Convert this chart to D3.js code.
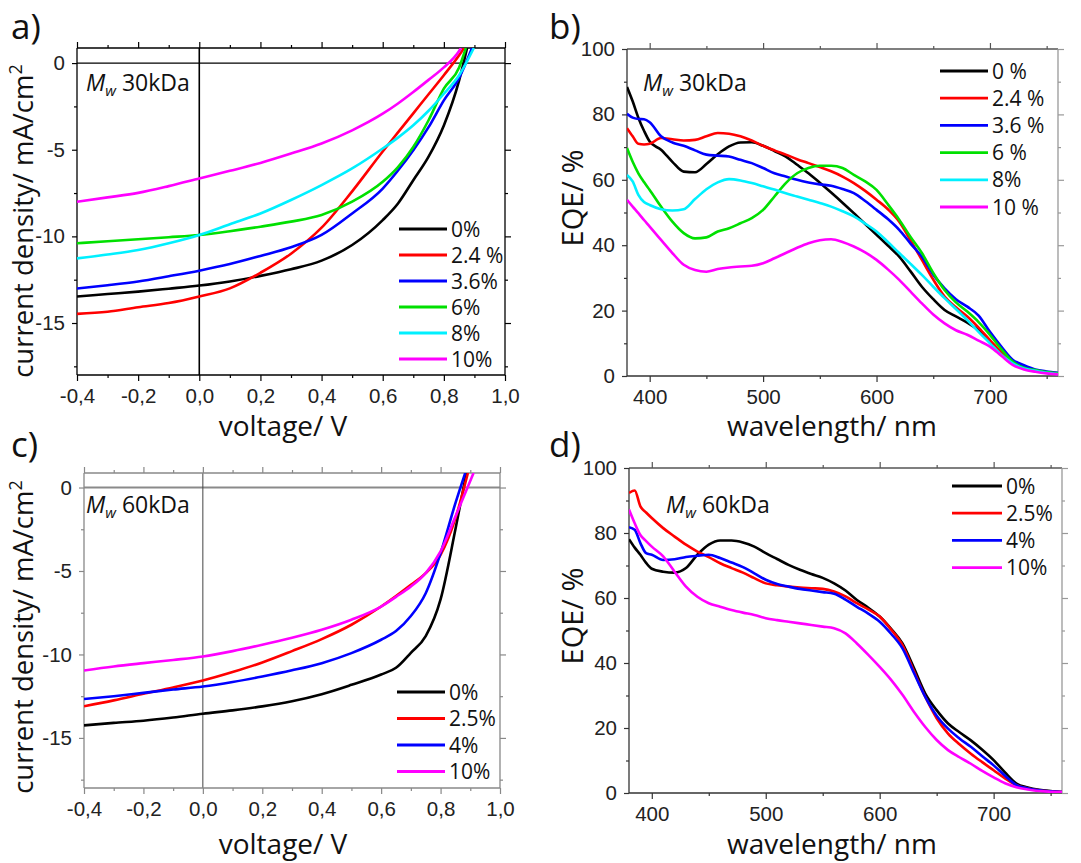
<!DOCTYPE html>
<html>
<head>
<meta charset="utf-8">
<script src="https://cdn.jsdelivr.net/npm/d3@7"></script>
<style>
  body { margin: 0; background: #fff; }
  svg { font-family: "Open Sans", "Noto Sans", sans-serif; }
</style>
</head>
<body>
<svg id="chart" width="1081" height="863"></svg>
<script>
// J-V curves, voltage points (V)
var jvVolt = [-0.4, -0.3, -0.2, -0.1, 0, 0.1, 0.2, 0.3, 0.4, 0.5, 0.6, 0.65, 0.7, 0.75, 0.8, 0.85];

// panel a: Mw 30kDa, current density (mA/cm2)
var jvA0  = [-13.47, -13.33, -13.19, -13.02, -12.84, -12.6, -12.28, -11.9, -11.4, -10.5, -9.06, -8.1, -6.76, -5.4, -3.6, -1.0];
var jvA24 = [-14.47, -14.35, -14.09, -13.85, -13.47, -13.0, -12.1, -11.0, -9.5, -7.4, -5.1, -4.0, -2.9, -1.8, -0.7, 0.45];
var jvA36 = [-13.01, -12.82, -12.6, -12.3, -11.98, -11.6, -11.13, -10.63, -9.92, -8.68, -7.24, -6.2, -5.03, -3.7, -2.15, -0.85];
var jvA6  = [-10.4, -10.28, -10.17, -10.05, -9.92, -9.7, -9.44, -9.15, -8.77, -8.0, -6.85, -6.0, -4.84, -3.3, -1.48, -0.25];
var jvA8  = [-11.27, -11.05, -10.79, -10.4, -9.92, -9.3, -8.68, -7.9, -7.04, -6.08, -4.93, -4.3, -3.59, -2.75, -1.77, -0.7];
var jvA10 = [-8.0, -7.75, -7.49, -7.1, -6.66, -6.22, -5.76, -5.22, -4.64, -3.88, -2.92, -2.33, -1.67, -0.97, -0.25, 0.7];
// voltage where each curve leaves the top of the frame
var jvAEnd = [0.876, 0.866, 0.892, 0.872, 0.898, 0.856];
var jvALabels = ["0%", "2.4 %", "3.6%", "6%", "8%", "10%"];

// panel c: Mw 60kDa
var jvC0  = [-14.25, -14.1, -13.97, -13.78, -13.55, -13.35, -13.11, -12.8, -12.38, -11.82, -11.2, -10.8, -9.9, -8.9, -6.7, -2.5];
var jvC25 = [-13.1, -12.75, -12.36, -11.98, -11.56, -11.05, -10.48, -9.8, -9.08, -8.22, -7.13, -6.5, -5.83, -5.13, -4.03, -1.84];
var jvC4  = [-12.67, -12.5, -12.3, -12.1, -11.92, -11.65, -11.32, -10.95, -10.52, -9.92, -9.12, -8.6, -7.7, -6.33, -3.93, -0.94];
var jvC10 = [-10.96, -10.72, -10.52, -10.33, -10.12, -9.8, -9.42, -9.0, -8.52, -7.92, -7.13, -6.55, -5.93, -5.13, -3.83, -1.74];
var jvCEnd = [0.887, 0.892, 0.883, 0.911];
var jvCLabels = ["0%", "2.5%", "4%", "10%"];

// EQE spectra, wavelength points (nm)
var eqeWave = [380, 385, 390, 395, 400, 410, 420, 430, 440, 450, 460, 470, 480, 490, 500, 510, 520, 530, 540, 550,
               560, 570, 580, 590, 600, 610, 620, 630, 640, 650, 660, 670, 680, 690, 700, 710, 720, 730, 740, 750, 760];

// panel b: Mw 30kDa, EQE (%)
var eqeB0  = [88.4, 84, 79, 75, 71.7, 69.2, 65.5, 62.5, 62.3, 64.8, 67.8, 70.2, 71.4, 71.5, 70.4, 68.8, 67.1, 64.6, 62, 59.1,
              56.1, 53, 49.8, 46.5, 43.2, 39.9, 36.5, 32, 27.3, 23.5, 20.2, 18.2, 16.3, 14, 10.5, 7, 4.2, 2.5, 1.6, 1.1, 0.8];
var eqeB24 = [75.8, 73.3, 71, 70.8, 71, 72.8, 72.4, 72, 72.2, 73.3, 74.3, 74.1, 73.3, 72, 70.4, 69, 67.7, 66.3, 65.1, 63.9,
              62.6, 61, 59, 56.6, 53.9, 51, 47.2, 41.5, 35.5, 29.5, 24.3, 21, 18.2, 14.8, 11, 7.2, 3.9, 2.3, 1.6, 1.1, 0.8];
var eqeB36 = [80.2, 79, 78.6, 78.5, 77.6, 73.3, 71.4, 70.4, 69, 67.7, 67.4, 67.1, 66.1, 65.1, 63.6, 62, 61, 60, 59.2, 58.6,
              58.2, 57.2, 55.9, 53.5, 50.8, 48, 44.7, 40.5, 36.5, 31, 26.8, 23.5, 21.2, 18.5, 13.5, 9, 5, 3.3, 2, 1.4, 1];
var eqeB6  = [69.7, 65.5, 62, 59.3, 56.9, 51.8, 47.2, 43.7, 42.1, 42.4, 44.2, 45.2, 46.7, 48.3, 50.8, 54.9, 59, 62, 63.6, 64.3,
              64.3, 63.6, 61.5, 59.5, 56.9, 52.5, 47.8, 42.5, 37.6, 31.5, 26.3, 22.5, 19.7, 16.5, 12.6, 8.2, 4.4, 2.5, 1.8, 1.2, 0.8];
var eqeB8  = [61.5, 59.5, 55.4, 53.2, 52.3, 51, 50.6, 51, 54.1, 57.1, 59.2, 60.2, 59.8, 59, 58, 57, 55.9, 54.9, 53.9, 52.9,
              51.8, 50.4, 48.8, 46.6, 44.2, 41, 37.6, 34.3, 30.9, 27.3, 23.8, 20.5, 17.1, 13.5, 10, 6.5, 3.9, 2.3, 1.6, 1, 0.6];
var eqeB10 = [53.9, 51.8, 49.8, 47.7, 45.7, 41.6, 37.6, 34, 32.4, 31.9, 32.7, 33.2, 33.5, 33.7, 34.5, 36, 37.6, 39.2, 40.6, 41.5,
              41.8, 41, 39.6, 37.8, 35.5, 32.6, 29.4, 25.8, 22.2, 18.8, 16.1, 14, 12.6, 10.8, 9, 6.2, 3.4, 2, 1.3, 0.8, 0.5];
var eqeBLabels = ["0 %", "2.4 %", "3.6 %", "6 %", "8%", "10 %"];

// panel d: Mw 60kDa
var eqeD0  = [78.1, 75.5, 73.3, 70.8, 69, 68.1, 67.8, 69.2, 73.3, 76.4, 77.7, 77.7, 77.1, 75.8, 73.8, 72, 70.2, 68.7, 67.4, 66.2,
              64.5, 62.3, 59.4, 57, 54.3, 50.5, 46, 38.5, 30.6, 25.5, 21.4, 18.7, 16.2, 13.3, 10.1, 6.3, 2.9, 1.7, 1, 0.6, 0.3];
var eqeD25 = [92.3, 93.1, 88.2, 86.3, 84.6, 81.5, 78.9, 76.4, 74.3, 72.6, 70.7, 69.2, 67.8, 66.1, 64.5, 63.9, 63.5, 63.2, 63, 62.8,
              62, 60.5, 58.4, 56.5, 54.3, 50.3, 45.5, 37.5, 29.6, 23, 18.3, 15, 12.1, 9.5, 7, 4.5, 2.4, 1.4, 0.8, 0.5, 0.3];
var eqeD4  = [81.8, 81, 76.9, 73.8, 73.3, 71.7, 71.9, 72.6, 73, 73.3, 72.3, 70.9, 69.5, 67.6, 65.6, 64.3, 63.5, 62.8, 62.3, 61.8,
              61.3, 59.5, 57.3, 55.2, 52.7, 49, 44.5, 37, 29.6, 23.8, 19.8, 16.8, 14.2, 11.3, 8.5, 5.3, 2.4, 1.4, 0.8, 0.5, 0.3];
var eqeD10 = [87.2, 83, 79.4, 77.5, 75.8, 72.8, 68.1, 63.5, 60.4, 58.4, 57.3, 56.3, 55.5, 54.8, 53.8, 53.2, 52.7, 52.2, 51.7, 51.2,
              50.7, 49.1, 46, 42.5, 38.8, 34.8, 30.2, 25, 20.3, 16.3, 13.2, 11, 9, 6.8, 4.8, 3, 1.8, 1.1, 0.6, 0.4, 0.3];
var eqeDLabels = ["0%", "2.5%", "4%", "10%"];

// tick values
var jvXMajor = [-0.4, -0.2, 0, 0.2, 0.4, 0.6, 0.8, 1.0];
var jvXMinor = [-0.3, -0.1, 0.1, 0.3, 0.5, 0.7, 0.9];
var jvYMajor = [0, -5, -10, -15];
var jvYMinor = [-2.5, -7.5, -12.5, -17.5];
var eqeXMajor = [400, 500, 600, 700];
var eqeXMinor = [450, 550, 650, 750];
var eqeYMajor = [0, 20, 40, 60, 80, 100];
var eqeYMinor = [10, 30, 50, 70, 90];

var col6 = ["#000000", "#ff0000", "#0000ff", "#00e000", "#00f0ff", "#ff00ff"];
var col4 = ["#000000", "#ff0000", "#0000ff", "#ff00ff"];

var svg = d3.select("#chart");
var locale = d3.formatLocale({decimal: ",", thousands: ".", grouping: [3], currency: ["", ""], minus: "-"});
var fmtV = locale.format(".1f");
var fmtInt = locale.format("d");

// J-V series: shared voltage grid plus end point at the top of the frame
function jvSeries(arrs, ends, labels, colors, yTop) {
    return arrs.map(function (a, i) {
        var pts = jvVolt.map(function (v, k) { return [v, a[k]]; });
        pts.push([ends[i], yTop]);
        return {label: labels[i], color: colors[i], points: pts};
    });
}
function eqeSeries(arrs, labels, colors) {
    return arrs.map(function (a, i) {
        return {label: labels[i], color: colors[i], points: eqeWave.map(function (w, k) { return [w, a[k]]; })};
    });
}

function drawPanel(p) {
    var g = svg.append("g");
    var b = p.box;
    var x = d3.scaleLinear().domain(p.xDomain).range([b.left, b.right]);
    var y = d3.scaleLinear().domain(p.yDomain).range([b.bottom, b.top]);

    svg.append("clipPath").attr("id", "clip-" + p.id)
        .append("rect").attr("x", b.left).attr("y", b.top)
        .attr("width", b.right - b.left).attr("height", b.bottom - b.top);

    // zero lines
    if (p.zero) {
        g.append("line").attr("x1", b.left).attr("x2", b.right)
            .attr("y1", y(0)).attr("y2", y(0))
            .attr("stroke", p.zero.hColor).attr("stroke-width", p.zero.hWidth);
        g.append("line").attr("x1", x(0)).attr("x2", x(0))
            .attr("y1", b.top).attr("y2", b.bottom)
            .attr("stroke", p.zero.vColor).attr("stroke-width", p.zero.vWidth);
    }

    // axes
    function ax(gen, vals, size, fmt, tf, lineCol) {
        var a = g.append("g").attr("transform", tf)
            .call(gen.tickValues(vals).tickSizeOuter(0).tickSizeInner(size).tickPadding(p.pad).tickFormat(fmt));
        a.select(".domain").remove();
        a.selectAll("line").attr("stroke", lineCol).attr("stroke-width", 1.2);
        a.selectAll("text").attr("font-size", 20.5).attr("fill", "#222").attr("font-family", null);
        return a;
    }
    var none = function () { return ""; };
    ax(d3.axisBottom(x), p.xMajor, 6, p.xFmt, "translate(0," + b.bottom + ")", p.frame.bottom);
    ax(d3.axisBottom(x), p.xMinor, 3, none, "translate(0," + b.bottom + ")", p.frame.bottom);
    ax(d3.axisTop(x), p.xMajor, 6, none, "translate(0," + b.top + ")", p.frame.top);
    ax(d3.axisTop(x), p.xMinor, 3, none, "translate(0," + b.top + ")", p.frame.top);
    ax(d3.axisLeft(y), p.yMajor, 5, p.yFmt, "translate(" + b.left + ",0)", p.frame.left);
    ax(d3.axisLeft(y), p.yMinor, 3, none, "translate(" + b.left + ",0)", p.frame.left);
    ax(d3.axisRight(y), p.yMajor, 6, none, "translate(" + b.right + ",0)", p.frame.right);
    ax(d3.axisRight(y), p.yMinor, 3, none, "translate(" + b.right + ",0)", p.frame.right);

    // frame
    var fr = g.append("g").attr("stroke-width", 1.3);
    fr.append("line").attr("x1", b.left).attr("x2", b.right).attr("y1", b.top).attr("y2", b.top).attr("stroke", p.frame.top);
    fr.append("line").attr("x1", b.right).attr("x2", b.right).attr("y1", b.top).attr("y2", b.bottom).attr("stroke", p.frame.right);
    fr.append("line").attr("x1", b.left).attr("x2", b.right).attr("y1", b.bottom).attr("y2", b.bottom).attr("stroke", p.frame.bottom);
    fr.append("line").attr("x1", b.left).attr("x2", b.left).attr("y1", b.top).attr("y2", b.bottom).attr("stroke", p.frame.left);

    // curves
    var line = d3.line()
        .x(function (d) { return x(d[0]); })
        .y(function (d) { return y(d[1]); })
        .curve(d3.curveMonotoneX);
    g.append("g").attr("clip-path", "url(#clip-" + p.id + ")")
        .selectAll("path").data(p.series).join("path")
        .attr("d", function (s) { return line(s.points); })
        .attr("fill", "none")
        .attr("stroke", function (s) { return s.color; })
        .attr("stroke-width", 2.6)
        .attr("stroke-linejoin", "round");

    // legend
    var lg = g.append("g");
    p.series.forEach(function (s, i) {
        var yy = p.legend.y + i * p.legend.step;
        lg.append("line").attr("x1", p.legend.x).attr("x2", p.legend.x + p.legend.len)
            .attr("y1", yy).attr("y2", yy).attr("stroke", s.color).attr("stroke-width", 2.8);
        lg.append("text").attr("x", p.legend.x + p.legend.len + 4).attr("y", yy + 7.5)
            .attr("font-size", 21).attr("fill", "#111").text(s.label);
    });

    // Mw annotation
    var t = g.append("text").attr("x", p.note.x).attr("y", p.note.y).attr("font-size", 23).attr("fill", "#111");
    t.append("tspan").attr("font-style", "italic").text("M");
    t.append("tspan").attr("font-style", "italic").attr("font-size", 15).attr("dy", 5).text("w");
    t.append("tspan").attr("dy", -5).text(" " + p.note.text);

    // axis titles
    g.append("text").attr("x", p.xTitle.x).attr("y", p.xTitle.y).attr("text-anchor", "middle")
        .attr("font-size", 28).attr("fill", "#111").text(p.xTitle.text);
    var yt = g.append("text").attr("text-anchor", "middle").attr("font-size", p.yTitle.size).attr("fill", "#111")
        .attr("transform", "translate(" + p.yTitle.x + "," + p.yTitle.y + ") rotate(-90)");
    yt.append("tspan").text(p.yTitle.text);
    if (p.yTitle.sup) {
        yt.append("tspan").attr("font-size", 18).attr("dy", -11).text(p.yTitle.sup);
    }

    // panel letter
    svg.append("text").attr("x", p.letter.x).attr("y", p.letter.y)
        .attr("font-size", 35).attr("fill", "#111").text(p.letter.text);
}

var jvTop = 0.87;
var frameBlack = {top: "#000", right: "#000", bottom: "#000", left: "#000"};
var frameGrey = {top: "#888", right: "#888", bottom: "#888", left: "#888"};
var frameMixed = {top: "#555", right: "#999", bottom: "#333", left: "#333"};

drawPanel({
    id: "a", box: {left: 77, right: 505, top: 48, bottom: 375},
    xDomain: [-0.4, 1.0], yDomain: [-18, jvTop], pad: 7,
    xMajor: jvXMajor, xMinor: jvXMinor, yMajor: jvYMajor, yMinor: jvYMinor,
    xFmt: fmtV, yFmt: fmtInt, frame: frameBlack,
    zero: {hColor: "#000", hWidth: 1.2, vColor: "#000", vWidth: 1.6},
    series: jvSeries([jvA0, jvA24, jvA36, jvA6, jvA8, jvA10], jvAEnd, jvALabels, col6, jvTop),
    legend: {x: 399, y: 229, step: 26, len: 48},
    note: {x: 86, y: 91, text: "30kDa"},
    xTitle: {x: 283, y: 436, text: "voltage/ V"},
    yTitle: {x: 33, y: 221, text: "current density/ mA/cm", sup: "2", size: 27.5},
    letter: {x: 11, y: 39, text: "a)"}
});

drawPanel({
    id: "b", box: {left: 627, right: 1058, top: 49, bottom: 376},
    xDomain: [380, 760], yDomain: [0, 100], pad: 7,
    xMajor: eqeXMajor, xMinor: eqeXMinor, yMajor: eqeYMajor, yMinor: eqeYMinor,
    xFmt: fmtInt, yFmt: fmtInt, frame: frameMixed,
    series: eqeSeries([eqeB0, eqeB24, eqeB36, eqeB6, eqeB8, eqeB10], eqeBLabels, col6),
    legend: {x: 940, y: 71, step: 27.2, len: 48},
    note: {x: 643, y: 91, text: "30kDa"},
    xTitle: {x: 832, y: 436, text: "wavelength/ nm"},
    yTitle: {x: 583, y: 198, text: "EQE/ %", size: 29},
    letter: {x: 549, y: 39, text: "b)"}
});

drawPanel({
    id: "c", box: {left: 84, right: 500, top: 473, bottom: 788},
    xDomain: [-0.4, 1.0], yDomain: [-18, jvTop], pad: 7,
    xMajor: jvXMajor, xMinor: jvXMinor, yMajor: jvYMajor, yMinor: jvYMinor,
    xFmt: fmtV, yFmt: fmtInt, frame: frameGrey,
    zero: {hColor: "#8a8a8a", hWidth: 1.8, vColor: "#444", vWidth: 1},
    series: jvSeries([jvC0, jvC25, jvC4, jvC10], jvCEnd, jvCLabels, col4, jvTop),
    legend: {x: 397, y: 692, step: 26.5, len: 48},
    note: {x: 86, y: 513, text: "60kDa"},
    xTitle: {x: 283, y: 854, text: "voltage/ V"},
    yTitle: {x: 33, y: 637, text: "current density/ mA/cm", sup: "2", size: 27.5},
    letter: {x: 11, y: 457, text: "c)"}
});

drawPanel({
    id: "d", box: {left: 629, right: 1062, top: 468, bottom: 793},
    xDomain: [380, 760], yDomain: [0, 100], pad: 7,
    xMajor: eqeXMajor, xMinor: eqeXMinor, yMajor: eqeYMajor, yMinor: eqeYMinor,
    xFmt: fmtInt, yFmt: fmtInt, frame: frameMixed,
    series: eqeSeries([eqeD0, eqeD25, eqeD4, eqeD10], eqeDLabels, col4),
    legend: {x: 952, y: 486, step: 27.2, len: 50},
    note: {x: 666, y: 513, text: "60kDa"},
    xTitle: {x: 832, y: 854, text: "wavelength/ nm"},
    yTitle: {x: 583, y: 616, text: "EQE/ %", size: 29},
    letter: {x: 549, y: 457, text: "d)"}
});
</script>
</body>
</html>
